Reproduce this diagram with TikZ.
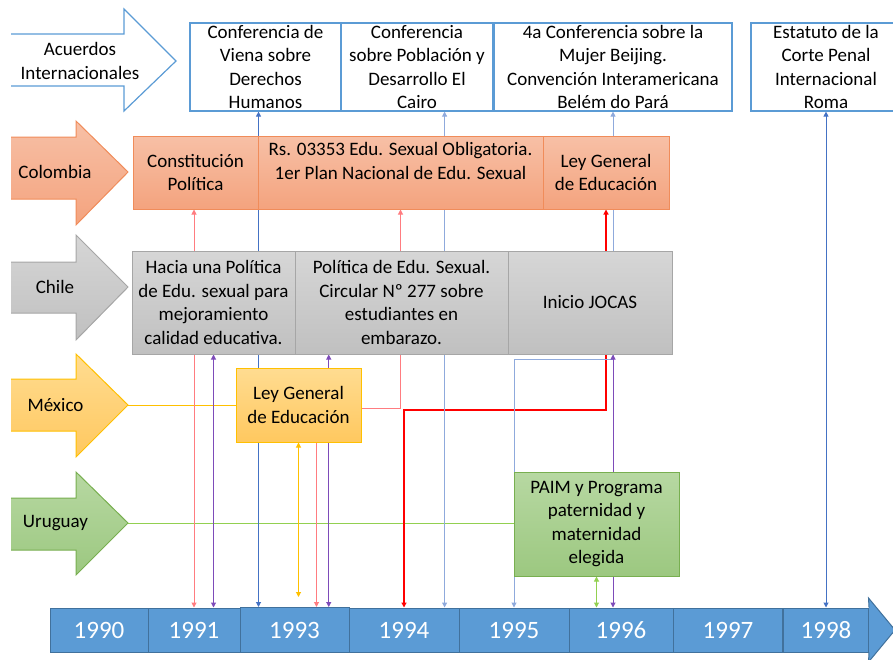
\documentclass[tikz,border=0pt]{standalone}
\usepackage{fontspec}
\setmainfont{Carlito}
\usetikzlibrary{arrows.meta,calc,backgrounds}
\definecolor{accLine}{RGB}{91,155,213}
\definecolor{coTop}{RGB}{247,192,166}
\definecolor{coBot}{RGB}{244,163,126}
\definecolor{coLine}{RGB}{240,140,90}
\definecolor{clTop}{RGB}{214,214,214}
\definecolor{clBot}{RGB}{192,192,192}
\definecolor{clLine}{RGB}{166,166,166}
\definecolor{mxTop}{RGB}{255,220,145}
\definecolor{mxBot}{RGB}{255,200,95}
\definecolor{mxLine}{RGB}{255,192,0}
\definecolor{uyTop}{RGB}{183,216,162}
\definecolor{uyBot}{RGB}{156,200,128}
\definecolor{uyLine}{RGB}{120,175,80}
\definecolor{yearFill}{RGB}{91,155,213}
\definecolor{yearLine}{RGB}{65,113,156}
\definecolor{lightRed}{RGB}{255,124,128}
\definecolor{strongRed}{RGB}{255,0,0}
\definecolor{purpleLine}{RGB}{125,75,185}
\definecolor{blueLine}{RGB}{68,114,196}
\definecolor{lightBlue}{RGB}{143,170,220}
\definecolor{yellowLine}{RGB}{255,192,0}
\definecolor{greenLine}{RGB}{146,208,80}
\tikzstyle{eventBox}=[shape = rectangle, inner sep = 0pt, align = center, font = \fontsize{19}{23.5}\selectfont]
\tikzstyle{accordBox}=[eventBox, draw = accLine, line width = 1.2pt, fill = white, minimum height = 88pt]
\tikzstyle{yearBox}=[shape = rectangle, inner sep = 0pt, draw = yearLine, line width = 1pt, fill = yearFill, text = white, minimum height = 44pt, font = \fontsize{25}{30}\selectfont]
\tikzstyle{link}=[line width = 1pt, {Triangle[width=5pt,length=5pt]}-{Triangle[width=5pt,length=5pt]}]

\begin{document}
\begin{tikzpicture}[x = 1pt, y = -1pt]
\tikzstyle{coBox}=[eventBox, draw = coLine, line width = 1pt, top color = coTop, bottom color = coBot, minimum height = 73pt]
\tikzstyle{clBox}=[eventBox, draw = clLine, line width = 1pt, top color = clTop, bottom color = clBot, minimum height = 103pt]
\tikzstyle{mxBox}=[eventBox, draw = mxLine, line width = 1pt, top color = mxTop, bottom color = mxBot, minimum height = 74pt]
\tikzstyle{uyBox}=[eventBox, draw = uyLine, line width = 1pt, top color = uyTop, bottom color = uyBot, minimum height = 104pt]
\useasboundingbox (0,0) rectangle (893,659);
\draw[accLine, line width = 1.2pt] (11,34) -- (124,34) -- (124,9) -- (176,61) -- (124,111) -- (124,86) -- (11,86);
\node[eventBox] (acuerdos) at (80,61) {Acuerdos\\Internacionales};
\shade[top color = coTop, bottom color = coBot] (11,137) -- (76,137) -- (76,121) -- (128,172) -- (76,225) -- (76,199) -- (11,199) -- cycle;
\draw[coLine, line width = 1pt] (11,137) -- (76,137) -- (76,121) -- (128,172) -- (76,225) -- (76,199) -- (11,199);
\node[eventBox] (colombia) at (55,172) {Colombia};
\shade[top color = clTop, bottom color = clBot] (11,262) -- (76,262) -- (76,235) -- (128,287) -- (76,340) -- (76,313) -- (11,313) -- cycle;
\draw[clLine, line width = 1pt] (11,262) -- (76,262) -- (76,235) -- (128,287) -- (76,340) -- (76,313) -- (11,313);
\node[eventBox] (chile) at (55,287) {Chile};
\shade[top color = mxTop, bottom color = mxBot] (11,379) -- (76,379) -- (76,354) -- (128,405) -- (76,457) -- (76,431) -- (11,431) -- cycle;
\draw[mxLine, line width = 1pt] (11,379) -- (76,379) -- (76,354) -- (128,405) -- (76,457) -- (76,431) -- (11,431);
\node[eventBox] (mexico) at (55.5,405) {México};
\coordinate (mxTip) at (128,405);
\shade[top color = uyTop, bottom color = uyBot] (11,498) -- (76,498) -- (76,472) -- (128,523) -- (76,575) -- (76,550) -- (11,550) -- cycle;
\draw[uyLine, line width = 1pt] (11,498) -- (76,498) -- (76,472) -- (128,523) -- (76,575) -- (76,550) -- (11,550);
\node[eventBox] (uruguay) at (55.5,523) {Uruguay};
\coordinate (uyTip) at (128,523);
\node[accordBox, minimum width = 151pt] (viena) at (265.5,67) {Conferencia de\\Viena sobre\\Derechos\\Humanos};
\node[accordBox, minimum width = 152pt] (cairo) at (417,67) {Conferencia\\sobre Población y\\Desarrollo El\\Cairo};
\node[accordBox, minimum width = 238pt] (beijing) at (613,67) {4a Conferencia sobre la\\Mujer Beijing.\\Convención Interamericana\\Belém do Pará};
\node[accordBox, minimum width = 150pt] (roma) at (826,67) {Estatuto de la\\Corte Penal\\Internacional\\Roma};
\node[coBox, minimum width = 125pt] (cp) at (195.5,172.5) {Constitución\\Política};
\node[coBox, minimum width = 285pt] (rs) at (400.5,172.5) {};
\node[eventBox] (rsText) at (400.5,161) {Rs. 03353 Edu. Sexual Obligatoria.\\1er Plan Nacional de Edu. Sexual};
\node[coBox, minimum width = 126pt] (leyco) at (606,172.5) {Ley General\\de Educación};
\node[clBox, minimum width = 163pt] (hacia) at (213.5,302.5) {Hacia una Política\\de Edu. sexual para\\mejoramiento\\calidad educativa.};
\node[clBox, minimum width = 213pt] (pol) at (401.5,302.5) {Política de Edu. Sexual.\\Circular Nº 277 sobre\\estudiantes en\\embarazo.};
\node[clBox, minimum width = 164pt] (jocas) at (590,302.5) {Inicio JOCAS};
\node[mxBox, minimum width = 125pt] (leymx) at (298.5,405) {Ley General\\de Educación};
\node[uyBox, minimum width = 165pt] (paim) at (596.5,524) {PAIM y Programa\\paternidad y\\maternidad\\elegida};
\node[yearBox, minimum width = 98pt] (y1990) at (99,630) {1990};
\node[yearBox, minimum width = 92pt] (y1991) at (194,630) {1991};
\node[yearBox, minimum width = 109pt, minimum height = 45pt] (y1993) at (294.5,630) {1993};
\node[yearBox, minimum width = 110pt] (y1994) at (404,630) {1994};
\node[yearBox, minimum width = 110pt] (y1995) at (514,630) {1995};
\node[yearBox, minimum width = 104pt] (y1996) at (621,630) {1996};
\node[yearBox, minimum width = 109pt] (y1997) at (728,630) {1997};
\node[yearBox, minimum width = 85pt] (y1998) at (826,630) {1998};
\filldraw[fill = yearFill, draw = yearLine, line width = 1pt] (y1998.north east) -- (868.5,598) -- (895,630) -- (868.5,662) -- (y1998.south east);
\coordinate (rsBend) at ($(leymx.east)+(0,3)$);
\coordinate (leyBend) at ($(leymx.east)+(0,4.5)$);
\coordinate (beiBend) at ($(jocas.south)+(0,5)$);
\coordinate (rsFoot) at ($(y1993.north west)!.7!(y1993.north east)$);
\coordinate (polFoot) at ($(pol.south west)!.16!(pol.south east)$);
\coordinate (cairoFoot) at ($(cairo.south west)!.68!(cairo.south east)$);
\begin{pgfonlayer}{background}
\draw[yellowLine, line width = 1pt] (mxTip) -- (leymx.west);
\draw[greenLine, line width = 1pt] (uyTip) -- (uyTip -| paim.west);
\draw[link, lightRed] (cp.south -| y1991.north) -- (y1991.north);
\draw[link, purpleLine] (hacia.south) -- (hacia.south |- y1991.north);
\draw[link, blueLine] (viena.south -| cp.east) -- (y1993.north -| cp.east);
\draw[link, yellowLine, shorten >= 10pt] (leymx.south) -- (leymx.south |- y1993.north);
\draw[link, lightRed] (rs.south) -- (rs.south |- rsBend) -| (rsFoot);
\draw[link, purpleLine] (polFoot) -- (polFoot |- y1993.north);
\draw[link, strongRed, line width = 2pt] (leyco.south) -- (leyco.south |- leyBend) -| (y1994.north);
\draw[link, lightBlue] (cairoFoot) -- (cairoFoot |- y1994.north);
\draw[link, lightBlue] (beijing.south) -- (beijing.south |- beiBend) -| (y1995.north);
\draw[link, purpleLine] (jocas.south -| beijing.south) -- (y1996.north -| beijing.south);
\draw[link, greenLine] (paim.south) -- (paim.south |- y1996.north);
\draw[link, blueLine] (roma.south -| y1998.north) -- (y1998.north);
\end{pgfonlayer}
\end{tikzpicture}
\end{document}
